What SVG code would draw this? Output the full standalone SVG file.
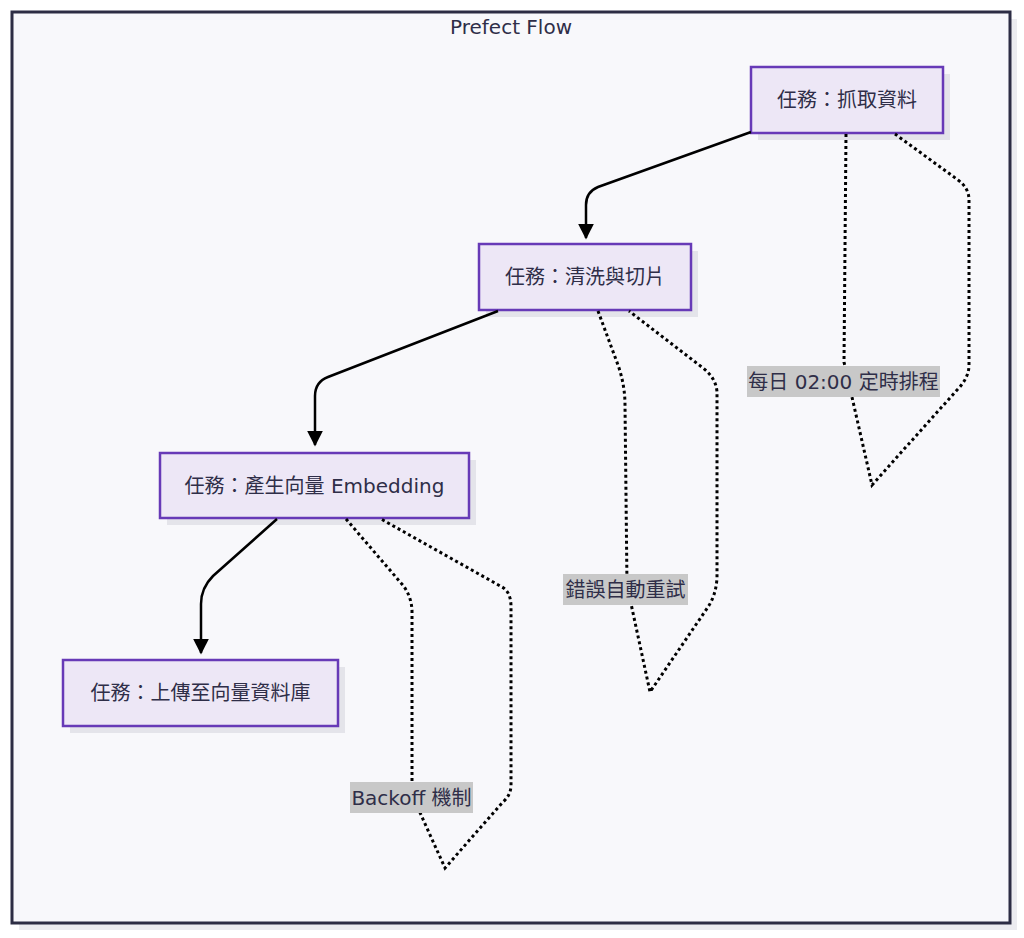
<svg xmlns="http://www.w3.org/2000/svg" width="1024" height="938" viewBox="0 0 1024 938">
<style>
.txt{font-family:"DejaVu Sans","Noto Sans CJK TC",sans-serif;font-size:20px;fill:#2f2e48;text-anchor:middle;dominant-baseline:central}
.node rect.box{fill:#ede7f6;stroke:#673ab7;stroke-width:2.5}
.node rect.sh{fill:#e4e4ea}
.edge{fill:none;stroke:#000;stroke-width:2.5}
.loop{fill:none;stroke:#000;stroke-width:3;stroke-dasharray:3 3}
.lbl rect{fill:#c8c8c8}
</style>
<defs>
<marker id="arr" viewBox="0 0 10 10" refX="9" refY="5" markerUnits="userSpaceOnUse" markerWidth="16" markerHeight="16" orient="auto">
<path d="M0,0 L10,5 L0,10 z" fill="#000"/>
</marker>
</defs>
<rect x="0" y="0" width="1024" height="938" fill="#ffffff"/>
<g id="frame">
<rect x="19" y="19" width="998" height="911" fill="#ececf0"/>
<rect x="12" y="12" width="998" height="911" fill="#f8f8fb" stroke="#2d2d44" stroke-width="3"/>
<text class="txt" x="511" y="27">Prefect Flow</text>
</g>
<g id="node-fetch" class="node">
<rect class="sh" x="758" y="74" width="192" height="66"/>
<rect class="box" x="751" y="67" width="192" height="66"/>
<text class="txt" x="847" y="100">任務：抓取資料</text>
</g>
<g id="node-clean" class="node">
<rect class="sh" x="486" y="251" width="212" height="66"/>
<rect class="box" x="479" y="244" width="212" height="66"/>
<text class="txt" x="585" y="277">任務：清洗與切片</text>
</g>
<g id="node-embed" class="node">
<rect class="sh" x="167" y="460" width="309" height="65"/>
<rect class="box" x="160" y="453" width="309" height="65"/>
<text class="txt" x="314.5" y="485.5">任務：產生向量 Embedding</text>
</g>
<g id="node-upload" class="node">
<rect class="sh" x="70" y="667" width="275" height="66"/>
<rect class="box" x="63" y="660" width="275" height="66"/>
<text class="txt" x="200.5" y="693">任務：上傳至向量資料庫</text>
</g>
<g id="connectors">
<path class="edge" d="M751,132 L598,187 Q586,192 586,205 L586,238" marker-end="url(#arr)"/>
<path class="edge" d="M498,311 L328,377 Q315,382 315,396 L315,445" marker-end="url(#arr)"/>
<path class="edge" d="M277,519 L213,576 Q201,588 201,604 L201,653" marker-end="url(#arr)"/>
<path class="loop" d="M846,134 L844,362 L872,485 L957,390 Q969,378 969,365 L969,200 Q969,188 958,180 L895,134"/>
<path class="loop" d="M598,311 L618,365 Q625,385 625,405 L627,585 L650,692 L708,607 Q716,595 717,578 L717,392 Q716,378 703,368 L629,311"/>
<path class="loop" d="M346,519 L401,583 Q411,594 412,610 L412,795 L445,868 L503,802 Q511,795 511,785 L511,607 Q511,592 502,587 L381,519"/>
</g>
<g id="label-schedule" class="lbl">
<rect x="747" y="366" width="193" height="31"/>
<text class="txt" x="843.5" y="381.5">每日 02:00 定時排程</text>
</g>
<g id="label-retry" class="lbl">
<rect x="563" y="574" width="125" height="31"/>
<text class="txt" x="625.5" y="589.5">錯誤自動重試</text>
</g>
<g id="label-backoff" class="lbl">
<rect x="350" y="782" width="123" height="31"/>
<text class="txt" x="411.5" y="797.5">Backoff 機制</text>
</g>
</svg>
